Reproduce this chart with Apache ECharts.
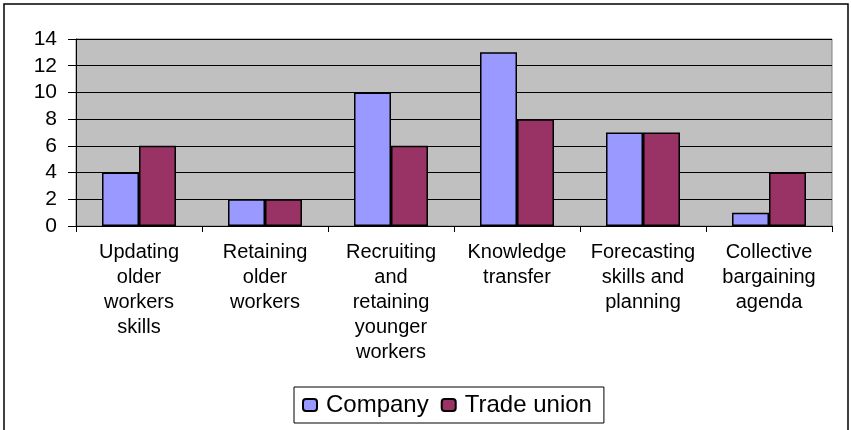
<!DOCTYPE html>
<html>
<head>
<meta charset="utf-8">
<script src="https://cdn.jsdelivr.net/npm/echarts@6/dist/echarts.min.js"></script>
<style>
  html, body { margin: 0; padding: 0; background: #fff; }
  #main { width: 851px; height: 430px; }
</style>
</head>
<body>
<div id="main"></div>
<script>
    var myChart = echarts.init(document.getElementById('main'));

    // 类别和数据
    var categories = [
        'Updating\nolder\nworkers\nskills',
        'Retaining\nolder\nworkers',
        'Recruiting\nand\nretaining\nyounger\nworkers',
        'Knowledge\ntransfer',
        'Forecasting\nskills and\nplanning',
        'Collective\nbargaining\nagenda'
    ];
    var company = [4, 2, 10, 13, 7, 1];
    var tradeUnion = [6, 2, 6, 8, 7, 4];
    var yTicks = [0, 2, 4, 6, 8, 10, 12, 14];

    var font = 'Liberation Sans, Arial, sans-serif';

    var option = {
        animation: false,
        color: ['#9999FF', '#993366'],
        graphic: [{
            type: 'rect',
            shape: { x: 4, y: 4, width: 844, height: 440 },
            style: { fill: 'none', stroke: '#000', lineWidth: 1.5 },
            silent: true
        }],
        legend: {
            data: ['Company', 'Trade union'],
            left: 294,
            top: 387,
            padding: [6, 12, 6, 8],
            itemWidth: 14,
            itemHeight: 12,
            itemGap: 12,
            backgroundColor: '#fff',
            borderColor: '#000',
            borderWidth: 1,
            textStyle: { fontFamily: font, fontSize: 24, color: '#000', padding: [0, 0, 0, 4] }
        },
        grid: {
            left: 76,
            top: 39,
            right: 19,
            bottom: 204,
            show: true,
            backgroundColor: '#C0C0C0',
            borderColor: '#808080',
            borderWidth: 1
        },
        xAxis: {
            type: 'category',
            data: categories,
            axisLine: { show: true, lineStyle: { color: '#000', width: 1 } },
            axisTick: { show: true, length: 6, lineStyle: { color: '#000' } },
            axisLabel: {
                interval: 0,
                margin: 14,
                fontFamily: font,
                fontSize: 20,
                lineHeight: 25,
                color: '#000',
                align: 'center'
            }
        },
        yAxis: {
            type: 'value',
            min: yTicks[0],
            max: yTicks[yTicks.length - 1],
            interval: 2,
            axisLine: { show: true, lineStyle: { color: '#000', width: 1 } },
            axisTick: { show: true, length: 8, lineStyle: { color: '#000' } },
            axisLabel: { margin: 19, fontFamily: font, fontSize: 21, color: '#000' },
            splitLine: { show: true, lineStyle: { color: '#000', width: 1 } }
        },
        series: [
            {
                name: 'Company',
                type: 'bar',
                data: company,
                barWidth: 37,
                barGap: '0%',
                itemStyle: { borderColor: '#000', borderWidth: 1.5 }
            },
            {
                name: 'Trade union',
                type: 'bar',
                data: tradeUnion,
                barWidth: 37,
                barGap: '0%',
                itemStyle: { borderColor: '#000', borderWidth: 1.5 }
            }
        ]
    };

    myChart.setOption(option);
    window.addEventListener('resize', function () {
        myChart.resize();
    });
</script>
</body>
</html>
